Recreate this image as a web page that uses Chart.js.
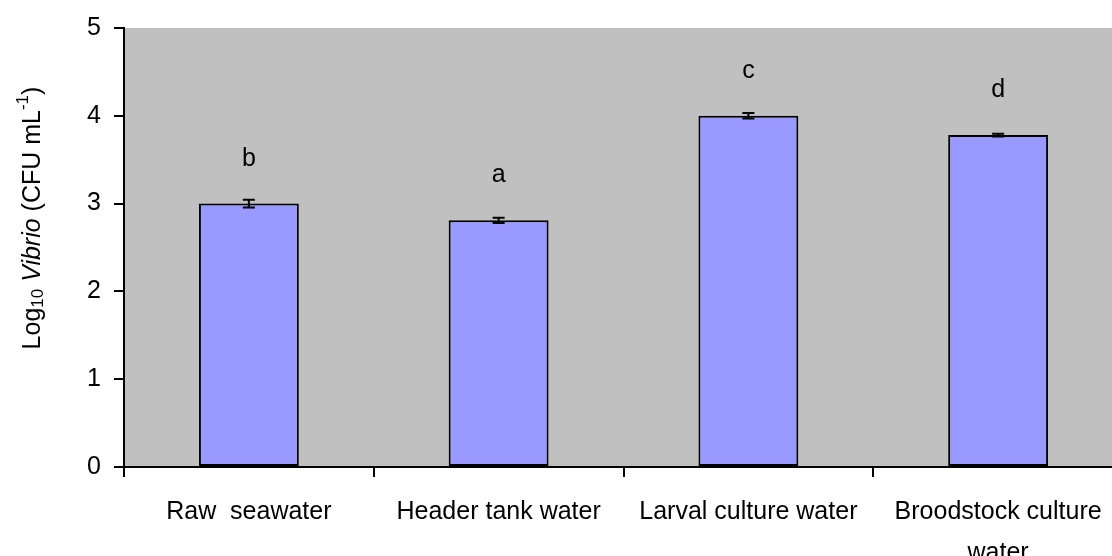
<!DOCTYPE html>
<html>
<head>
<meta charset="utf-8">
<script src="https://cdn.jsdelivr.net/npm/chart.js@4"></script>
<style>
  html, body { margin: 0; padding: 0; background: #ffffff; overflow: hidden; }
  #wrap { width: 1124px; height: 556px; position: relative; }
</style>
</head>
<body>
<div id="wrap"><canvas id="c"></canvas></div>
<script>
const categories = ['Raw  seawater', 'Header tank water', 'Larval culture water', ['Broodstock culture', 'water']];
const means = [3.00, 2.81, 4.00, 3.78];
const errors = [0.043, 0.03, 0.032, 0.015];
const letters = ['b', 'a', 'c', 'd'];
const yTicks = [0, 1, 2, 3, 4, 5];

const FONT = '"Liberation Sans", Arial, sans-serif';

const bgPlugin = {
  id: 'bg',
  beforeDraw(chart) {
    const { ctx, chartArea } = chart;
    ctx.save();
    ctx.fillStyle = '#C0C0C0';
    ctx.fillRect(chartArea.left, chartArea.top, chart.width - chartArea.left, chartArea.bottom - chartArea.top);
    ctx.restore();
  }
};

const annoPlugin = {
  id: 'anno',
  afterDatasetsDraw(chart) {
    const { ctx } = chart;
    const meta = chart.getDatasetMeta(0);
    const y = chart.scales.y;
    ctx.save();
    ctx.strokeStyle = '#000';
    ctx.lineWidth = 2;
    meta.data.forEach((bar, i) => {
      const x = bar.x;
      const yt = y.getPixelForValue(means[i] + errors[i]);
      const yb = y.getPixelForValue(means[i] - errors[i]);
      ctx.beginPath();
      ctx.moveTo(x, yt); ctx.lineTo(x, yb);
      ctx.moveTo(x - 6, yt); ctx.lineTo(x + 6, yt);
      ctx.moveTo(x - 6, yb); ctx.lineTo(x + 6, yb);
      ctx.stroke();
    });
    ctx.fillStyle = '#000';
    ctx.font = '25px ' + FONT;
    ctx.textAlign = 'center';
    ctx.textBaseline = 'alphabetic';
    meta.data.forEach((bar, i) => {
      ctx.fillText(letters[i], bar.x, y.getPixelForValue(means[i]) - 38);
    });
    ctx.restore();
  },
  afterDraw(chart) {
    const { ctx } = chart;
    const parts = [
      { t: 'Log', size: 25, style: '', dy: 0 },
      { t: '10', size: 17, style: '', dy: 5 },
      { t: ' ', size: 25, style: '', dy: 0 },
      { t: 'Vibrio', size: 25, style: 'italic ', dy: 0 },
      { t: ' (CFU mL', size: 25, style: '', dy: 0 },
      { t: '-1', size: 17, style: '', dy: -10 },
      { t: ')', size: 25, style: '', dy: 0 }
    ];
    ctx.save();
    let total = 0;
    parts.forEach(p => { ctx.font = p.style + p.size + 'px ' + FONT; p.w = ctx.measureText(p.t).width; total += p.w; });
    ctx.translate(33, 218);
    ctx.rotate(-Math.PI / 2);
    ctx.fillStyle = '#000';
    ctx.textBaseline = 'middle';
    ctx.textAlign = 'left';
    let x = -total / 2;
    parts.forEach(p => {
      ctx.font = p.style + p.size + 'px ' + FONT;
      ctx.fillText(p.t, x, p.dy);
      x += p.w;
    });
    ctx.restore();
  }
};

new Chart(document.getElementById('c'), {
  type: 'bar',
  data: {
    labels: categories,
    datasets: [{
      data: means,
      backgroundColor: '#9999FF',
      borderColor: '#000000',
      borderWidth: 2,
      borderSkipped: false,
      categoryPercentage: 1.0,
      barPercentage: 0.4
    }]
  },
  options: {
    responsive: true,
    maintainAspectRatio: false,
    animation: false,
    layout: { padding: { top: 28, right: 1, left: 0, bottom: 0 } },
    plugins: { legend: { display: false }, tooltip: { enabled: false } },
    scales: {
      x: {
        offset: true,
        grid: { display: true, drawOnChartArea: false, drawTicks: true, tickLength: 10, color: '#000', lineWidth: 2, offset: true },
        border: { display: true, color: '#000', width: 2 },
        ticks: {
          color: '#000',
          font: { family: FONT, size: 25, lineHeight: 1.64 },
          padding: 15,
          maxRotation: 0,
          minRotation: 0,
          autoSkip: false
        },
        afterFit(scale) { scale.height = 89; }
      },
      y: {
        min: 0,
        max: 5,
        afterBuildTicks(scale) { scale.ticks = yTicks.map(v => ({ value: v })); },
        grid: { display: true, drawOnChartArea: false, drawTicks: true, tickLength: 10, color: '#000', lineWidth: 2 },
        border: { display: true, color: '#000', width: 2 },
        ticks: {
          color: '#000',
          font: { family: FONT, size: 25 },
          padding: 13
        },
        afterFit(scale) { scale.width = 124; }
      }
    }
  },
  plugins: [bgPlugin, annoPlugin]
});
</script>
</body>
</html>
